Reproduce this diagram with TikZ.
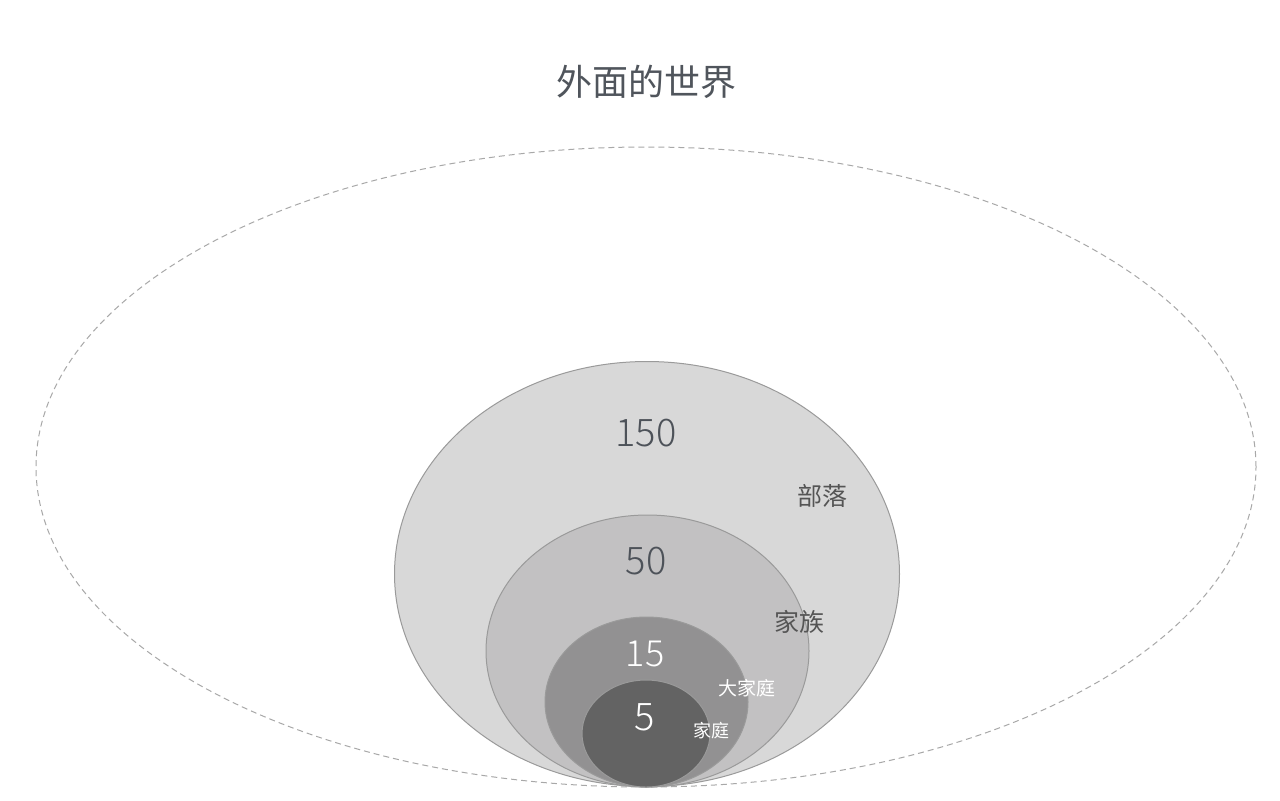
\documentclass[tikz,border=0pt]{standalone}
\usepackage{fontspec}
\setmainfont{Noto Sans CJK SC}
\newfontfamily\numfont{Noto Sans CJK SC Light}
\definecolor{titlec}{HTML}{50555C}
\definecolor{numc}{HTML}{4D5259}
\definecolor{labc}{HTML}{555555}
\definecolor{edgec}{HTML}{9A9A9A}
\definecolor{fA}{HTML}{D8D8D8}
\definecolor{fB}{HTML}{C2C1C2}
\definecolor{fC}{HTML}{929192}
\definecolor{fD}{HTML}{636363}
\definecolor{dashc}{HTML}{A8A8A8}
\tikzset{
  ring/.style={draw=edgec, line width=0.5pt},
  world/.style={draw=dashc, line width=0.5pt, dash pattern=on 3pt off 2pt},
  txt/.style={inner sep=0pt, anchor=center},
}
\begin{document}
\begin{tikzpicture}[x=0.5pt,y=-0.5pt]
\useasboundingbox (0,0) rectangle (1280,800);
\fill[white] (0,0) rectangle (1280,800);
\node[txt, text=titlec, font=\fontsize{18pt}{20pt}\selectfont] (title) at (646,82) {外面的世界};
\draw[world] (646,467) ellipse [x radius=305pt, y radius=160pt];
\path[ring, fill=fA] (647,574) ellipse [x radius=126.25pt, y radius=106.25pt];
\path[ring, fill=fB] (647.5,651) ellipse [x radius=80.75pt, y radius=68pt];
\path[ring, fill=fC] (646.5,702) ellipse [x radius=50.75pt, y radius=42.5pt];
\path[ring, fill=fD] (646,733.5) ellipse [x radius=32pt, y radius=26.75pt];
\node[txt, text=numc, font=\numfont\fontsize{19pt}{21pt}\selectfont] (n150) at (646,433) {150};
\node[txt, text=labc, font=\fontsize{12.5pt}{14pt}\selectfont] (l150) at (822,496) {部落};
\node[txt, text=numc, font=\numfont\fontsize{19pt}{21pt}\selectfont] (n50) at (646,561) {50};
\node[txt, text=labc, font=\fontsize{12.5pt}{14pt}\selectfont] (l50) at (799,622) {家族};
\node[txt, text=white, font=\numfont\fontsize{18pt}{20pt}\selectfont] (n15) at (645,654) {15};
\node[txt, text=white, font=\fontsize{9.5pt}{11pt}\selectfont] (l15) at (747,688) {大家庭};
\node[txt, text=white, font=\numfont\fontsize{19pt}{21pt}\selectfont] (n5) at (645,717) {5};
\node[txt, text=white, font=\fontsize{9pt}{10pt}\selectfont] (l5) at (711,731) {家庭};
\end{tikzpicture}
\end{document}
